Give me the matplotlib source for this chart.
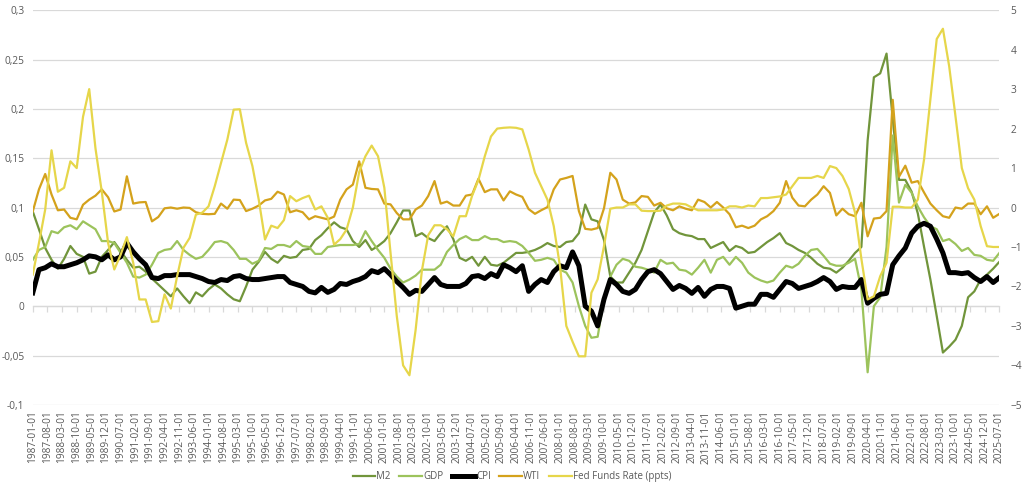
import numpy as np
import pandas as pd
import matplotlib
matplotlib.use("Agg")
import matplotlib.pyplot as plt
import matplotlib.dates as mdates
from matplotlib.ticker import FuncFormatter

plt.rcParams["font.family"] = ["Open Sans", "DejaVu Sans"]

# quarterly observations, 1987Q1 .. 2025Q3
dates = pd.date_range("1987-01-01", periods=155, freq="QS")

m2 = [0.096, 0.078, 0.059, 0.047, 0.038, 0.048, 0.061, 0.053, 0.05, 0.033, 0.035, 0.05,
      0.057, 0.065, 0.056, 0.047, 0.039, 0.04, 0.035, 0.028, 0.022, 0.016, 0.01, 0.018,
      0.01, 0.003, 0.014, 0.01, 0.017, 0.022, 0.018, 0.012, 0.007, 0.005, 0.02, 0.037,
      0.045, 0.055, 0.048, 0.044, 0.051, 0.049, 0.05, 0.057, 0.058, 0.067, 0.072, 0.079,
      0.085, 0.08, 0.078, 0.066, 0.06, 0.067, 0.057, 0.061, 0.066, 0.074, 0.085, 0.097,
      0.097, 0.071, 0.074, 0.069, 0.066, 0.074, 0.081, 0.068, 0.049, 0.046, 0.05, 0.041,
      0.05, 0.042, 0.041, 0.044, 0.049, 0.054, 0.054, 0.055, 0.057, 0.06, 0.064, 0.061,
      0.06, 0.065, 0.066, 0.074, 0.103, 0.088, 0.086, 0.067, 0.03, 0.024, 0.024, 0.034,
      0.044, 0.057, 0.076, 0.095, 0.103, 0.092, 0.078, 0.074, 0.072, 0.071, 0.068, 0.068,
      0.059, 0.062, 0.065, 0.056, 0.061, 0.059, 0.054, 0.055, 0.06, 0.065, 0.069, 0.074,
      0.064, 0.061, 0.057, 0.054, 0.049, 0.043, 0.039, 0.038, 0.034, 0.039, 0.046, 0.054,
      0.06, 0.168, 0.232, 0.236, 0.256, 0.19, 0.128, 0.128, 0.116, 0.094, 0.06, 0.027,
      -0.01, -0.047, -0.041, -0.034, -0.02, 0.009, 0.015, 0.027, 0.032, 0.038, 0.045]

gdp = [0.047, 0.057, 0.06, 0.076, 0.074, 0.08, 0.082, 0.078, 0.086, 0.082, 0.078, 0.066,
       0.066, 0.064, 0.054, 0.044, 0.03, 0.029, 0.032, 0.042, 0.054, 0.057, 0.058, 0.066,
       0.057, 0.052, 0.048, 0.05, 0.057, 0.065, 0.066, 0.064, 0.057, 0.048, 0.048, 0.043,
       0.046, 0.059, 0.058, 0.062, 0.062, 0.06, 0.066, 0.061, 0.06, 0.053, 0.053, 0.06,
       0.061, 0.062, 0.062, 0.062, 0.063, 0.076, 0.066, 0.057, 0.049, 0.038, 0.03, 0.024,
       0.027, 0.031, 0.037, 0.037, 0.037, 0.042, 0.055, 0.062, 0.068, 0.071, 0.067, 0.067,
       0.071, 0.068, 0.068, 0.065, 0.066, 0.065, 0.061, 0.054, 0.046, 0.047, 0.049, 0.047,
       0.037, 0.034, 0.024, 0.0, -0.02, -0.032, -0.031, 0.008, 0.03, 0.042, 0.048, 0.046,
       0.04, 0.039, 0.037, 0.034, 0.047, 0.043, 0.044, 0.037, 0.036, 0.032, 0.039, 0.047,
       0.034, 0.047, 0.05, 0.042, 0.05, 0.044, 0.034, 0.029, 0.026, 0.024, 0.026, 0.034,
       0.041, 0.039, 0.043, 0.051, 0.057, 0.058, 0.051, 0.043, 0.041, 0.041, 0.044, 0.048,
       0.017, -0.067, 0.0, 0.009, 0.06, 0.173, 0.105, 0.123, 0.115, 0.101, 0.09, 0.081,
       0.078, 0.066, 0.068, 0.063, 0.056, 0.059, 0.052, 0.051, 0.047, 0.046, 0.054]

cpi = [0.0135, 0.037, 0.039, 0.043, 0.04, 0.04, 0.042, 0.044, 0.047, 0.051, 0.05, 0.047,
       0.052, 0.047, 0.05, 0.064, 0.055, 0.048, 0.042, 0.029, 0.028, 0.031, 0.031, 0.032,
       0.032, 0.032, 0.03, 0.028, 0.025, 0.024, 0.027, 0.026, 0.03, 0.031, 0.028, 0.027,
       0.027, 0.028, 0.029, 0.03, 0.03, 0.024, 0.022, 0.02, 0.015, 0.0135, 0.019, 0.014,
       0.017, 0.023, 0.022, 0.025, 0.027, 0.03, 0.036, 0.034, 0.038, 0.032, 0.025, 0.019,
       0.012, 0.016, 0.015, 0.022, 0.029, 0.022, 0.02, 0.02, 0.02, 0.023, 0.03, 0.031,
       0.028, 0.033, 0.03, 0.042, 0.039, 0.035, 0.041, 0.015, 0.022, 0.027, 0.024, 0.035,
       0.041, 0.039, 0.055, 0.041, 0.0, -0.005, -0.02, 0.007, 0.027, 0.022, 0.015, 0.013,
       0.017, 0.027, 0.035, 0.037, 0.033, 0.025, 0.017, 0.021, 0.018, 0.013, 0.019, 0.01,
       0.017, 0.02, 0.02, 0.018, -0.002, 0.0, 0.002, 0.002, 0.012, 0.012, 0.009, 0.017,
       0.025, 0.023, 0.018, 0.02, 0.022, 0.025, 0.029, 0.025, 0.017, 0.02, 0.019, 0.019,
       0.027, 0.003, 0.008, 0.012, 0.013, 0.042, 0.051, 0.059, 0.074, 0.081, 0.084, 0.081,
       0.068, 0.054, 0.034, 0.034, 0.033, 0.034, 0.029, 0.025, 0.03, 0.024, 0.029]

# right axis series
wti = [-0.1, 0.46, 0.85, 0.33, -0.07, -0.05, -0.26, -0.3, 0.07, 0.2, 0.3, 0.46,
       0.26, -0.1, -0.05, 0.79, 0.1, 0.13, 0.14, -0.35, -0.24, -0.02, 0.0, -0.03,
       0.0, -0.01, -0.12, -0.16, -0.17, -0.16, 0.1, -0.03, 0.2, 0.19, -0.09, -0.03,
       0.05, 0.18, 0.22, 0.4, 0.33, -0.12, -0.07, -0.12, -0.3, -0.22, -0.26, -0.3,
       -0.23, 0.2, 0.46, 0.58, 1.17, 0.5, 0.47, 0.46, 0.1, 0.08, -0.14, -0.3,
       -0.3, -0.05, 0.05, 0.29, 0.67, 0.1, 0.15, 0.05, 0.05, 0.3, 0.33, 0.73,
       0.39, 0.46, 0.46, 0.18, 0.41, 0.33, 0.27, -0.04, -0.16, -0.07, 0.01, 0.46,
       0.71, 0.75, 0.8, -0.09, -0.54, -0.56, -0.52, -0.02, 0.88, 0.71, 0.2, 0.1,
       0.13, 0.29, 0.27, 0.05, 0.12, -0.02, -0.07, 0.03, -0.03, -0.07, 0.2, 0.14,
       0.0, 0.14, 0.0, -0.17, -0.5, -0.46, -0.52, -0.46, -0.3, -0.22, -0.09, 0.12,
       0.67, 0.25, 0.05, 0.03, 0.2, 0.33, 0.54, 0.37, -0.2, -0.03, -0.17, -0.22,
       0.12, -0.73, -0.28, -0.26, -0.09, 2.73, 0.78, 1.06, 0.63, 0.67, 0.38, 0.1,
       -0.07, -0.22, -0.26, 0.0, -0.03, 0.1, 0.1, -0.17, 0.03, -0.26, -0.16]

fed = [-1.7, -0.9, -0.05, 1.45, 0.4, 0.5, 1.17, 1.0, 2.3, 3.0, 1.5, 0.4,
       -0.9, -1.57, -1.2, -0.75, -1.4, -2.33, -2.33, -2.9, -2.88, -2.2, -2.56, -1.74,
       -1.02, -0.77, -0.18, -0.13, 0.03, 0.54, 1.13, 1.72, 2.48, 2.49, 1.64, 1.05,
       0.2, -0.81, -0.46, -0.52, -0.32, 0.29, 0.16, 0.24, 0.3, -0.05, 0.03, -0.26,
       -0.94, -0.8, -0.56, 0.0, 0.9, 1.3, 1.57, 1.3, 0.5, -1.15, -2.75, -4.0,
       -4.25, -3.1, -1.6, -0.7, -0.45, -0.45, -0.55, -0.73, -0.22, -0.22, 0.3, 0.7,
       1.3, 1.8, 2.0, 2.02, 2.03, 2.02, 1.98, 1.47, 0.88, 0.54, 0.2, -0.47,
       -1.5, -3.0, -3.4, -3.77, -3.77, -2.16, -1.82, -0.98, -0.03, 0.0, 0.0, 0.08,
       0.08, -0.08, -0.09, -0.09, -0.08, 0.05, 0.1, 0.1, 0.08, 0.0, -0.07, -0.07,
       -0.07, -0.07, -0.05, 0.03, 0.03, 0.0, 0.05, 0.03, 0.24, 0.24, 0.26, 0.28,
       0.33, 0.54, 0.75, 0.75, 0.75, 0.8, 0.75, 1.05, 1.0, 0.8, 0.47, -0.13,
       -1.3, -2.33, -2.25, -1.74, -1.4, 0.02, 0.02, 0.0, 0.0, 0.2, 1.22, 2.74,
       4.27, 4.53, 3.58, 2.31, 1.0, 0.49, 0.2, -0.47, -0.98, -1.0, -1.0]

tick_dates = pd.date_range("1987-01-01", "2025-07-01", freq="7MS")

grey = "#595959"
grid_c = "#d9d9d9"


def comma_fmt(v, pos):
    if abs(v) < 1e-9:
        return "0"
    return f"{round(v, 2):g}".replace(".", ",")


fig = plt.figure(figsize=(10.24, 4.86), dpi=100)
ax = fig.add_axes([0.032, 0.167, 0.944, 0.812])
ax2 = ax.twinx()

ax.plot(dates, m2, color="#71953b", lw=1.6, label="M2")
ax.plot(dates, gdp, color="#9cc35c", lw=1.6, label="GDP")
ax.plot(dates, cpi, color="black", lw=3.6, label="CPI")
ax2.plot(dates, wti, color="#d4a21c", lw=1.6, label="WTI")
ax2.plot(dates, fed, color="#e6d64a", lw=1.6, label="Fed Funds Rate (ppts)")

ymin, ymax = -0.1, 0.3
ax.set_ylim(ymin, ymax)
ax.set_yticks(np.arange(-0.1, 0.301, 0.05))
ax.yaxis.set_major_formatter(FuncFormatter(comma_fmt))
ax.grid(axis="y", color=grid_c, lw=0.9)
ax.set_axisbelow(True)

ax2.set_ylim(-5, 5)
ax2.set_yticks(range(-5, 6))

ax.set_xlim(pd.Timestamp("1987-01-01"), pd.Timestamp("2025-07-01"))
ax.set_xticks(tick_dates)
ax.xaxis.set_major_formatter(mdates.DateFormatter("%Y-%m-%d"))
ax.tick_params(axis="x", length=0, pad=4, labelrotation=90, labelsize=7.3, labelcolor=grey)
ax.tick_params(axis="y", length=0, pad=6, labelsize=7.3, labelcolor=grey)
ax2.tick_params(axis="y", length=0, pad=8, labelsize=7.3, labelcolor=grey)

for a in (ax, ax2):
    for s in a.spines.values():
        s.set_visible(False)

# horizontal axis line with tick marks sits at zero
sec = ax.secondary_xaxis((0 - ymin) / (ymax - ymin))
sec.set_xticks(tick_dates)
sec.set_xticklabels([])
sec.tick_params(axis="x", length=4, color=grid_c, width=0.9)
sec.spines["bottom"].set_color(grid_c)
sec.spines["bottom"].set_linewidth(0.9)

h1, l1 = ax.get_legend_handles_labels()
h2, l2 = ax2.get_legend_handles_labels()
fig.legend(h1 + h2, l1 + l2, loc="lower center", bbox_to_anchor=(0.5, -0.01), ncol=5,
           frameon=False, fontsize=7, handlelength=2.3, columnspacing=0.9,
           handletextpad=0.15, labelcolor=grey)

fig.savefig("out.png", dpi=100)
